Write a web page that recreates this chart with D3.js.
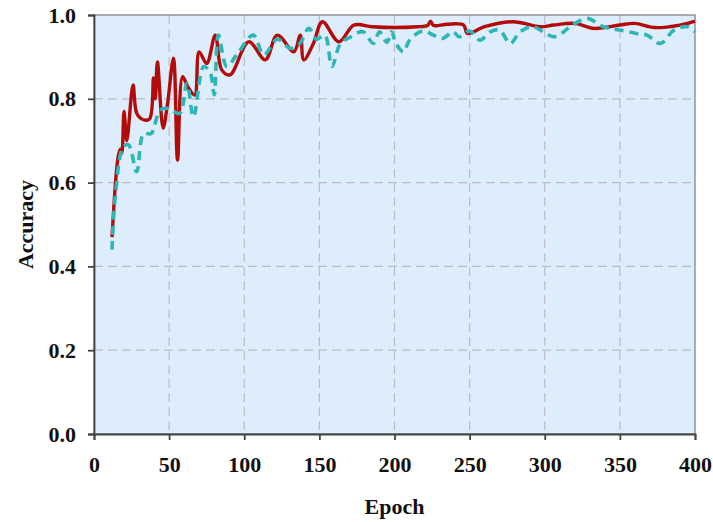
<!DOCTYPE html>
<html>
<head>
<meta charset="utf-8">
<script src="https://cdn.jsdelivr.net/npm/d3@7"></script>
<style>
  html, body { margin: 0; padding: 0; background: #ffffff; }
  svg { display: block; }
  text { font-family: "Liberation Serif", "Times New Roman", serif; font-weight: 700; fill: #111; }
</style>
</head>
<body>
<svg id="chart" width="713" height="522"></svg>
<script>
// training accuracy (solid red)
const trainEpochs = [12, 16, 17.5, 18.5, 20, 21.8, 26, 28.5, 33, 37, 39.6, 40.8, 42.2, 46, 49, 52.9, 55.6, 59, 62.4, 67, 70, 75, 80.7, 85, 90.5, 103, 114, 122, 133, 137.3, 139.6, 146, 152, 163, 173, 185, 200, 215, 222, 224, 226, 235, 246, 248.5, 260, 279, 297, 306, 320, 333, 350, 360, 373, 390, 400];
const trainAcc = [0.47, 0.66, 0.68, 0.67, 0.77, 0.70, 0.833, 0.765, 0.75, 0.752, 0.85, 0.80, 0.888, 0.73, 0.79, 0.897, 0.654, 0.853, 0.829, 0.809, 0.912, 0.884, 0.952, 0.869, 0.857, 0.936, 0.893, 0.952, 0.912, 0.952, 0.893, 0.932, 0.984, 0.936, 0.976, 0.972, 0.97, 0.972, 0.975, 0.985, 0.975, 0.978, 0.976, 0.956, 0.972, 0.984, 0.972, 0.976, 0.98, 0.968, 0.976, 0.98, 0.97, 0.976, 0.985];

// validation accuracy (dashed cyan)
const valEpochs = [12, 14, 19.6, 23, 28.4, 33, 38, 44, 49.6, 57, 61.8, 66.2, 73, 77.3, 80, 82.8, 88.4, 95, 106, 113, 122, 130.7, 137, 143, 148, 153.6, 158.4, 164, 171, 179, 186, 190, 195, 198, 201, 206, 210, 219, 226, 232, 239, 243, 250, 257, 263.6, 270, 277, 283.6, 292, 299, 306, 311, 317, 328, 339, 350, 361, 368, 377, 386, 395, 400];
const valAcc = [0.44, 0.56, 0.686, 0.69, 0.626, 0.717, 0.717, 0.773, 0.777, 0.765, 0.837, 0.757, 0.877, 0.863, 0.81, 0.952, 0.877, 0.905, 0.952, 0.905, 0.942, 0.92, 0.932, 0.968, 0.942, 0.952, 0.877, 0.932, 0.948, 0.96, 0.932, 0.96, 0.935, 0.96, 0.932, 0.912, 0.94, 0.962, 0.952, 0.944, 0.96, 0.948, 0.962, 0.94, 0.96, 0.964, 0.932, 0.96, 0.972, 0.96, 0.948, 0.956, 0.972, 0.992, 0.972, 0.964, 0.956, 0.952, 0.932, 0.964, 0.972, 0.96];

const xTicks = [0, 50, 100, 150, 200, 250, 300, 350, 400];
const yTicks = [0, 0.2, 0.4, 0.6, 0.8, 1.0];

function drawChart() {
  const svg = d3.select("#chart");
  const margin = { top: 15, right: 18, bottom: 88, left: 94 };
  const width = 713 - margin.left - margin.right;
  const height = 522 - margin.top - margin.bottom;

  const x = d3.scaleLinear().domain([0, 400]).range([0, width]);
  const y = d3.scaleLinear().domain([0, 1]).range([height, 0]);

  const g = svg.append("g").attr("transform", `translate(${margin.left},${margin.top})`);

  g.append("rect")
    .attr("width", width)
    .attr("height", height)
    .attr("fill", "#ddedfc");

  // grid
  g.selectAll(".vgrid")
    .data(xTicks.slice(1, -1))
    .enter()
    .append("line")
    .attr("x1", d => x(d))
    .attr("x2", d => x(d))
    .attr("y1", 0)
    .attr("y2", height)
    .attr("stroke", "#bcbcc4")
    .attr("stroke-width", 1.2)
    .attr("stroke-dasharray", "9,5");

  g.selectAll(".hgrid")
    .data(yTicks.slice(1, -1))
    .enter()
    .append("line")
    .attr("x1", 0)
    .attr("x2", width)
    .attr("y1", d => y(d))
    .attr("y2", d => y(d))
    .attr("stroke", "#bcbcc4")
    .attr("stroke-width", 1.2)
    .attr("stroke-dasharray", "9,5");

  // frame
  g.append("rect")
    .attr("width", width)
    .attr("height", height)
    .attr("fill", "none")
    .attr("stroke", "#7a7a80")
    .attr("stroke-width", 1.2);

  const line = d3.line()
    .x(d => x(d[0]))
    .y(d => y(d[1]))
    .curve(d3.curveCatmullRom.alpha(0.5));

  const valData = valEpochs.map((e, i) => [e, valAcc[i]]);
  const trainData = trainEpochs.map((e, i) => [e, trainAcc[i]]);

  g.append("path")
    .attr("d", line(trainData))
    .attr("fill", "none")
    .attr("stroke", "#b30a0a")
    .attr("stroke-width", 3.4)
    .attr("stroke-linejoin", "round");

  g.append("path")
    .attr("d", line(valData))
    .attr("fill", "none")
    .attr("stroke", "#2db6b6")
    .attr("stroke-width", 3.6)
    .attr("stroke-dasharray", "9,6");

  // axes
  const xAxis = g.append("g")
    .attr("transform", `translate(0,${height})`)
    .call(d3.axisBottom(x).tickValues(xTicks).tickFormat(d3.format("d")).tickSizeOuter(0).tickSize(6).tickPadding(16));

  const yAxis = g.append("g")
    .call(d3.axisLeft(y).tickValues(yTicks).tickFormat(d3.format(".1f")).tickSizeOuter(0).tickSize(6).tickPadding(12));

  [xAxis, yAxis].forEach(ax => {
    ax.select(".domain").attr("stroke", "#444").attr("stroke-width", 1.8);
    ax.selectAll(".tick line").attr("stroke", "#444").attr("stroke-width", 1.8);
    ax.selectAll(".tick text")
      .attr("font-size", 22)
      .attr("font-family", "Liberation Serif, Times New Roman, serif")
      .attr("font-weight", 700)
      .attr("fill", "#111");
  });

  svg.append("text")
    .attr("x", margin.left + width / 2)
    .attr("y", 514)
    .attr("text-anchor", "middle")
    .attr("font-size", 22)
    .text("Epoch");

  svg.append("text")
    .attr("transform", `translate(33,${margin.top + height / 2}) rotate(-90)`)
    .attr("text-anchor", "middle")
    .attr("font-size", 22)
    .text("Accuracy");
}

drawChart();
</script>
</body>
</html>
